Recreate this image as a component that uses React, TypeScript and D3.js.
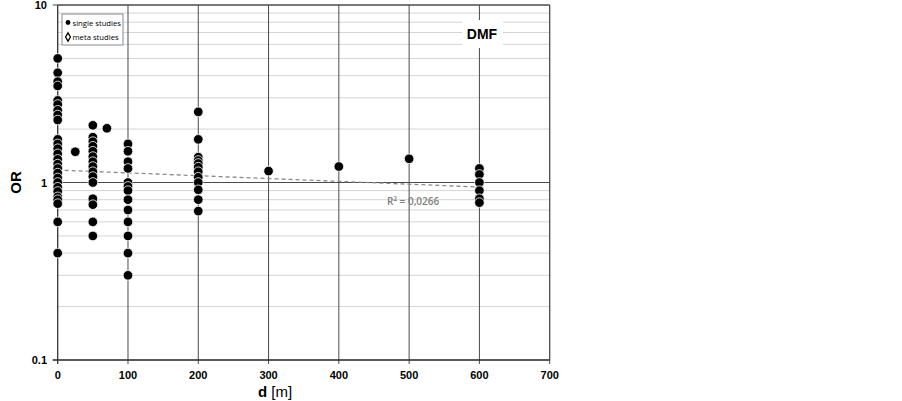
import React, { useEffect, useRef } from "react";
import * as d3 from "d3";

// distance [m] for each column of single studies, with OR values
const distances = [0, 25, 50, 70, 100, 200, 300, 400, 500, 600];
const orAt0 = [5.0, 4.15, 3.7, 3.5, 2.9, 2.75, 2.55, 2.4, 2.25, 1.75, 1.65, 1.55, 1.45, 1.35, 1.27, 1.2, 1.13, 1.06, 1.0, 0.94, 0.89, 0.83, 0.8, 0.76, 0.6, 0.4];
const orAt25 = [1.49];
const orAt50 = [2.1, 1.8, 1.7, 1.6, 1.5, 1.4, 1.31, 1.23, 1.15, 1.08, 1.0, 0.81, 0.75, 0.6, 0.5];
const orAt70 = [2.02];
const orAt100 = [1.65, 1.5, 1.31, 1.2, 1.0, 0.95, 0.9, 0.8, 0.7, 0.6, 0.5, 0.4, 0.3];
const orAt200 = [2.5, 1.75, 1.39, 1.33, 1.28, 1.22, 1.15, 1.07, 1.0, 0.91, 0.8, 0.69];
const orAt300 = [1.16];
const orAt400 = [1.23];
const orAt500 = [1.36];
const orAt600 = [1.2, 1.11, 1.0, 0.9, 0.81, 0.77];
const orColumns = [orAt0, orAt25, orAt50, orAt70, orAt100, orAt200, orAt300, orAt400, orAt500, orAt600];

const xTicks = [0, 100, 200, 300, 400, 500, 600, 700];
const yMajor = [0.1, 1, 10];
const yTickLabels = ["0.1", "1", "10"];
const trendX = [0, 600];
const trendY = [1.175, 0.943];
const r2Label = "R² = 0,0266";
const panelLabel = "DMF";

const W = 902;
const H = 401;

export default function App() {
  const ref = useRef<SVGSVGElement>(null);

  useEffect(() => {
    const svg = d3.select(ref.current);
    svg.selectAll("*").remove();

    const x = d3.scaleLinear().domain([0, 700]).range([57.7, 549.7]);
    const y = d3.scaleLog().domain([0.1, 10]).range([360, 5]);

    const minor: number[] = [];
    [0.1, 1].forEach((dec) => {
      for (let k = 2; k <= 9; k++) minor.push(dec * k);
    });

    // minor gridlines
    svg.append("g")
      .selectAll("line")
      .data(minor)
      .enter()
      .append("line")
      .attr("x1", x(0))
      .attr("x2", x(700))
      .attr("y1", (d) => y(d))
      .attr("y2", (d) => y(d))
      .attr("stroke", "#d4d4d4")
      .attr("stroke-width", 1);

    // vertical gridlines
    svg.append("g")
      .selectAll("line")
      .data(xTicks.slice(1))
      .enter()
      .append("line")
      .attr("x1", (d) => x(d))
      .attr("x2", (d) => x(d))
      .attr("y1", y(10))
      .attr("y2", y(0.1) + 4)
      .attr("stroke", "#4a4a4a")
      .attr("stroke-width", 1);

    // major gridlines
    svg.append("g")
      .selectAll("line")
      .data(yMajor)
      .enter()
      .append("line")
      .attr("x1", x(0) - 5)
      .attr("x2", x(700))
      .attr("y1", (d) => y(d))
      .attr("y2", (d) => y(d))
      .attr("stroke", (d) => (d === 0.1 ? "#222" : "#4a4a4a"))
      .attr("stroke-width", (d) => (d === 0.1 ? 1.3 : 1));

    // y axis line + x tick at 0
    svg.append("line")
      .attr("x1", x(0)).attr("x2", x(0))
      .attr("y1", y(10)).attr("y2", y(0.1) + 4)
      .attr("stroke", "#333").attr("stroke-width", 1.3);

    // DMF label with white box
    svg.append("rect")
      .attr("x", 462).attr("y", 20).attr("width", 41).attr("height", 28)
      .attr("fill", "#fff");
    svg.append("text")
      .attr("x", 482).attr("y", 39)
      .attr("text-anchor", "middle")
      .attr("font-family", "Liberation Sans, Arial, sans-serif")
      .attr("font-weight", "bold")
      .attr("font-size", 14)
      .text(panelLabel);

    // y tick labels
    svg.append("g")
      .selectAll("text")
      .data(yMajor)
      .enter()
      .append("text")
      .attr("x", 47)
      .attr("y", (d) => y(d) + 4)
      .attr("text-anchor", "end")
      .attr("font-family", "Liberation Sans, Arial, sans-serif")
      .attr("font-weight", "bold")
      .attr("font-size", 11)
      .text((d, i) => yTickLabels[i]);

    // x tick labels
    svg.append("g")
      .selectAll("text")
      .data(xTicks)
      .enter()
      .append("text")
      .attr("x", (d) => x(d))
      .attr("y", 379)
      .attr("text-anchor", "middle")
      .attr("font-family", "Liberation Sans, Arial, sans-serif")
      .attr("font-weight", "bold")
      .attr("font-size", 11)
      .text((d) => String(d));

    // axis titles
    svg.append("text")
      .attr("transform", `translate(21,${y(1)}) rotate(-90)`)
      .attr("text-anchor", "middle")
      .attr("font-family", "Liberation Sans, Arial, sans-serif")
      .attr("font-weight", "bold")
      .attr("font-size", 15)
      .text("OR");
    const xt = svg.append("text")
      .attr("x", 275).attr("y", 397)
      .attr("text-anchor", "middle")
      .attr("font-family", "Liberation Sans, Arial, sans-serif")
      .attr("font-size", 15);
    xt.append("tspan").attr("font-weight", "bold").text("d");
    xt.append("tspan").text(" [m]");

    // trend line
    svg.append("line")
      .attr("x1", x(trendX[0])).attr("x2", x(trendX[1]))
      .attr("y1", y(trendY[0])).attr("y2", y(trendY[1]))
      .attr("stroke", "#8a8a8a")
      .attr("stroke-width", 1.3)
      .attr("stroke-dasharray", "4,3");

    // points
    const pts = distances.flatMap((d, i) => orColumns[i].map((v) => ({ d, v })));
    svg.append("g")
      .selectAll("circle")
      .data(pts)
      .enter()
      .append("circle")
      .attr("cx", (p) => x(p.d))
      .attr("cy", (p) => y(p.v))
      .attr("r", 4.8)
      .attr("fill", "#000")
      .attr("stroke", "#fff")
      .attr("stroke-width", 0.8);

    // R² label
    svg.append("text")
      .attr("x", 387).attr("y", 205)
      .attr("font-family", "Open Sans, sans-serif")
      .attr("font-size", 10)
      .attr("fill", "#7f7f7f")
      .attr("font-weight", 600)
      .text(r2Label);

    // top and right borders
    svg.append("line")
      .attr("x1", x(0)).attr("x2", x(700))
      .attr("y1", y(10)).attr("y2", y(10))
      .attr("stroke", "#4a4a4a");
    svg.append("line")
      .attr("x1", x(700)).attr("x2", x(700))
      .attr("y1", y(10)).attr("y2", y(0.1))
      .attr("stroke", "#4a4a4a");

    // legend
    const lg = svg.append("g").attr("transform", "translate(62,14)");
    lg.append("rect")
      .attr("width", 61).attr("height", 31)
      .attr("fill", "#fff").attr("stroke", "#8a8a8a").attr("stroke-width", 1);
    lg.append("circle").attr("cx", 6).attr("cy", 8.5).attr("r", 2.4).attr("fill", "#000");
    lg.append("path")
      .attr("d", d3.symbol().type(d3.symbolDiamond).size(20)())
      .attr("transform", "translate(6,23)")
      .attr("fill", "#fff").attr("stroke", "#000").attr("stroke-width", 1.3);
    lg.append("text").attr("x", 10.5).attr("y", 11.5)
      .attr("font-family", "Open Sans, sans-serif").attr("font-size", 7.7)
      .text("single studies");
    lg.append("text").attr("x", 10.5).attr("y", 26)
      .attr("font-family", "Open Sans, sans-serif").attr("font-size", 7.7)
      .text("meta studies");
  }, []);

  return (
    <svg
      ref={ref}
      width={W}
      height={H}
      style={{ position: "absolute", left: 0, top: 0, background: "#fff" }}
    />
  );
}
